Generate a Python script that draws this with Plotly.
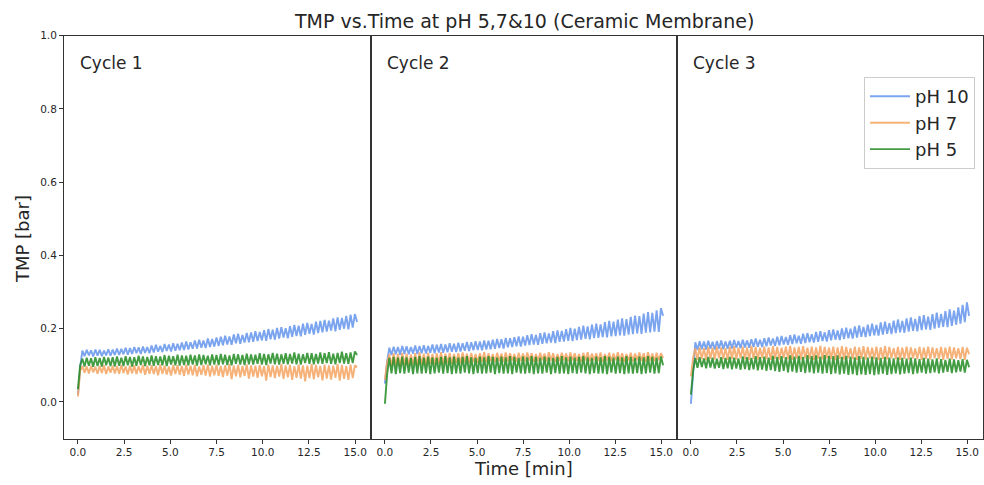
import numpy as np
import plotly.graph_objects as go

# ---------------- data ----------------
series_names = ["pH 10", "pH 7", "pH 5"]
cycle_labels = ["Cycle 1", "Cycle 2", "Cycle 3"]
x_ticks = [0.0, 2.5, 5.0, 7.5, 10.0, 12.5, 15.0]
y_ticks = [0.0, 0.2, 0.4, 0.6, 0.8, 1.0]

head_times = [0.0, 0.12]          # start-up ramp sample times [min]
osc_start, osc_end, osc_n = 0.24, 15.1, 128   # filtration/backwash sampling

# ----- Cycle 1 -----
c1_ph10_head = [0.020, 0.095]
c1_ph10_hi = [0.140,0.142,0.141,0.143,0.142,0.140,0.144,0.143,
              0.146,0.145,0.148,0.147,0.150,0.149,0.151,0.150,
              0.154,0.156,0.153,0.158,0.157,0.160,0.159,0.162,
              0.165,0.163,0.168,0.170,0.168,0.173,0.172,0.176,
              0.178,0.181,0.179,0.184,0.186,0.183,0.188,0.190,
              0.193,0.191,0.196,0.199,0.197,0.202,0.204,0.201,
              0.207,0.210,0.208,0.214,0.216,0.213,0.219,0.221,
              0.224,0.222,0.228,0.231,0.229,0.235,0.238,0.240]
c1_ph10_lo = [0.125,0.127,0.124,0.126,0.125,0.127,0.126,0.128,
              0.128,0.130,0.129,0.131,0.133,0.131,0.134,0.133,
              0.135,0.137,0.136,0.139,0.138,0.140,0.141,0.142,
              0.143,0.145,0.146,0.148,0.147,0.150,0.151,0.153,
              0.155,0.157,0.156,0.160,0.159,0.162,0.163,0.164,
              0.166,0.168,0.167,0.171,0.170,0.173,0.176,0.174,
              0.178,0.180,0.179,0.183,0.186,0.184,0.188,0.190,
              0.192,0.195,0.193,0.197,0.200,0.198,0.203,0.218]

c1_ph7_head = [0.015, 0.085]
c1_ph7_hi = [0.098,0.097,0.099,0.096,0.098,0.100,0.097,0.099,
             0.098,0.101,0.097,0.099,0.100,0.098,0.101,0.099,
             0.100,0.098,0.102,0.099,0.097,0.101,0.100,0.098,
             0.102,0.099,0.101,0.097,0.100,0.102,0.099,0.101,
             0.098,0.100,0.103,0.099,0.101,0.098,0.102,0.100,
             0.099,0.101,0.098,0.102,0.100,0.099,0.103,0.100,
             0.101,0.098,0.102,0.100,0.099,0.103,0.101,0.098,
             0.102,0.100,0.099,0.103,0.101,0.098,0.102,0.100]
c1_ph7_lo = [0.080,0.078,0.081,0.077,0.079,0.076,0.080,0.078,
             0.077,0.079,0.075,0.078,0.076,0.079,0.074,0.077,
             0.076,0.073,0.077,0.075,0.072,0.076,0.074,0.071,
             0.075,0.073,0.070,0.074,0.072,0.069,0.073,0.071,
             0.068,0.072,0.062,0.070,0.067,0.071,0.064,0.069,
             0.066,0.070,0.058,0.068,0.065,0.069,0.063,0.067,
             0.060,0.066,0.064,0.056,0.065,0.062,0.067,0.059,
             0.064,0.061,0.066,0.058,0.063,0.060,0.065,0.095]

c1_ph5_head = [0.035, 0.100]
c1_ph5_hi = [0.118,0.121,0.119,0.122,0.120,0.123,0.121,0.122,
             0.124,0.121,0.125,0.123,0.122,0.126,0.124,0.123,
             0.127,0.125,0.124,0.128,0.126,0.125,0.129,0.127,
             0.126,0.129,0.127,0.130,0.128,0.126,0.130,0.128,
             0.131,0.129,0.127,0.131,0.130,0.128,0.132,0.130,
             0.129,0.133,0.131,0.130,0.134,0.132,0.130,0.133,
             0.131,0.135,0.132,0.130,0.134,0.133,0.131,0.135,
             0.133,0.136,0.132,0.134,0.137,0.133,0.135,0.138]
c1_ph5_lo = [0.097,0.099,0.096,0.098,0.097,0.100,0.098,0.097,
             0.099,0.098,0.100,0.097,0.099,0.101,0.098,0.100,
             0.099,0.101,0.100,0.098,0.102,0.100,0.099,0.101,
             0.100,0.102,0.099,0.101,0.103,0.100,0.102,0.101,
             0.103,0.101,0.100,0.104,0.102,0.101,0.103,0.102,
             0.104,0.102,0.101,0.105,0.103,0.102,0.104,0.103,
             0.105,0.103,0.102,0.106,0.104,0.103,0.105,0.104,
             0.106,0.104,0.103,0.106,0.105,0.104,0.106,0.128]

# ----- Cycle 2 -----
c2_ph10_head = [0.050, 0.110]
c2_ph10_hi = [0.148,0.151,0.150,0.153,0.152,0.150,0.154,0.153,
              0.155,0.153,0.157,0.156,0.158,0.157,0.160,0.159,
              0.162,0.160,0.164,0.163,0.166,0.165,0.168,0.167,
              0.170,0.172,0.171,0.175,0.174,0.177,0.179,0.178,
              0.182,0.185,0.183,0.188,0.190,0.187,0.193,0.195,
              0.194,0.199,0.202,0.200,0.205,0.208,0.206,0.211,
              0.214,0.212,0.218,0.221,0.219,0.225,0.228,0.226,
              0.232,0.236,0.234,0.241,0.245,0.243,0.250,0.256]
c2_ph10_lo = [0.128,0.130,0.129,0.131,0.130,0.132,0.131,0.133,
              0.132,0.134,0.133,0.135,0.134,0.136,0.137,0.136,
              0.138,0.140,0.139,0.141,0.142,0.141,0.143,0.144,
              0.145,0.147,0.146,0.149,0.150,0.152,0.151,0.154,
              0.155,0.157,0.156,0.159,0.160,0.162,0.161,0.164,
              0.165,0.167,0.166,0.169,0.170,0.172,0.171,0.174,
              0.175,0.177,0.176,0.179,0.180,0.182,0.181,0.184,
              0.185,0.187,0.186,0.189,0.190,0.192,0.191,0.235]

c2_ph7_head = [0.060, 0.110]
c2_ph7_hi = [0.130,0.133,0.131,0.134,0.132,0.130,0.133,0.135,
             0.132,0.134,0.131,0.133,0.136,0.132,0.134,0.131,
             0.133,0.135,0.132,0.134,0.131,0.133,0.136,0.133,
             0.131,0.134,0.132,0.135,0.133,0.131,0.134,0.132,
             0.135,0.133,0.131,0.134,0.132,0.136,0.133,0.131,
             0.134,0.132,0.135,0.133,0.131,0.134,0.136,0.132,
             0.133,0.135,0.131,0.134,0.132,0.136,0.133,0.131,
             0.134,0.132,0.135,0.133,0.136,0.132,0.134,0.133]
c2_ph7_lo = [0.098,0.100,0.097,0.101,0.099,0.102,0.100,0.103,
             0.101,0.104,0.102,0.105,0.103,0.106,0.104,0.107,
             0.105,0.108,0.106,0.109,0.107,0.110,0.108,0.111,
             0.109,0.112,0.110,0.111,0.113,0.110,0.112,0.111,
             0.113,0.110,0.112,0.114,0.111,0.113,0.110,0.112,
             0.114,0.111,0.113,0.112,0.110,0.113,0.111,0.114,
             0.112,0.110,0.113,0.111,0.114,0.112,0.110,0.113,
             0.111,0.114,0.112,0.110,0.113,0.111,0.114,0.120]

c2_ph5_head = [-0.005, 0.075]
c2_ph5_hi = [0.120,0.123,0.121,0.124,0.122,0.120,0.123,0.125,
             0.121,0.124,0.122,0.120,0.123,0.125,0.122,0.124,
             0.121,0.123,0.125,0.122,0.120,0.124,0.122,0.125,
             0.123,0.121,0.124,0.122,0.125,0.123,0.120,0.124,
             0.122,0.125,0.123,0.121,0.124,0.122,0.120,0.123,
             0.125,0.122,0.124,0.121,0.123,0.125,0.122,0.120,
             0.124,0.122,0.125,0.123,0.121,0.124,0.122,0.125,
             0.123,0.120,0.124,0.122,0.125,0.123,0.121,0.124]
c2_ph5_lo = [0.078,0.076,0.079,0.077,0.080,0.076,0.078,0.077,
             0.079,0.076,0.078,0.080,0.077,0.079,0.076,0.078,
             0.077,0.080,0.078,0.076,0.079,0.077,0.078,0.080,
             0.076,0.079,0.077,0.078,0.076,0.080,0.078,0.077,
             0.079,0.076,0.078,0.077,0.080,0.076,0.079,0.077,
             0.078,0.076,0.079,0.077,0.080,0.078,0.076,0.079,
             0.077,0.078,0.076,0.080,0.077,0.079,0.076,0.078,
             0.077,0.079,0.076,0.078,0.080,0.077,0.079,0.100]

# ----- Cycle 3 -----
c3_ph10_head = [-0.005, 0.090]
c3_ph10_hi = [0.163,0.166,0.165,0.167,0.164,0.166,0.168,0.165,
              0.167,0.169,0.166,0.170,0.168,0.171,0.173,0.170,
              0.174,0.176,0.173,0.178,0.180,0.177,0.182,0.184,
              0.181,0.186,0.188,0.185,0.191,0.193,0.190,0.196,
              0.198,0.195,0.201,0.203,0.200,0.206,0.209,0.205,
              0.211,0.214,0.210,0.217,0.219,0.215,0.222,0.225,
              0.221,0.228,0.231,0.227,0.234,0.237,0.233,0.240,
              0.244,0.240,0.248,0.253,0.249,0.258,0.265,0.272]
c3_ph10_lo = [0.142,0.144,0.143,0.145,0.143,0.146,0.144,0.145,
              0.146,0.148,0.147,0.149,0.148,0.150,0.151,0.150,
              0.152,0.154,0.153,0.155,0.157,0.156,0.158,0.160,
              0.159,0.161,0.163,0.162,0.164,0.166,0.165,0.168,
              0.170,0.169,0.172,0.174,0.173,0.176,0.178,0.177,
              0.180,0.182,0.181,0.184,0.186,0.185,0.188,0.190,
              0.189,0.192,0.194,0.193,0.196,0.198,0.197,0.200,
              0.203,0.205,0.204,0.208,0.211,0.214,0.218,0.235]

c3_ph7_head = [0.070, 0.120]
c3_ph7_hi = [0.146,0.149,0.147,0.150,0.148,0.151,0.149,0.147,
             0.150,0.152,0.148,0.151,0.149,0.153,0.150,0.148,
             0.151,0.149,0.152,0.150,0.148,0.151,0.153,0.149,
             0.150,0.152,0.148,0.151,0.149,0.153,0.150,0.148,
             0.151,0.149,0.152,0.150,0.147,0.151,0.149,0.152,
             0.150,0.148,0.151,0.149,0.152,0.150,0.147,0.150,
             0.148,0.151,0.149,0.146,0.150,0.148,0.151,0.149,
             0.147,0.150,0.148,0.151,0.149,0.147,0.150,0.148]
c3_ph7_lo = [0.115,0.117,0.114,0.118,0.116,0.119,0.117,0.115,
             0.118,0.116,0.119,0.117,0.115,0.118,0.116,0.119,
             0.117,0.115,0.118,0.116,0.120,0.117,0.115,0.118,
             0.116,0.119,0.117,0.115,0.118,0.116,0.119,0.117,
             0.114,0.118,0.116,0.119,0.117,0.115,0.118,0.116,
             0.119,0.117,0.114,0.118,0.116,0.119,0.117,0.115,
             0.118,0.116,0.119,0.117,0.115,0.118,0.116,0.119,
             0.117,0.115,0.118,0.116,0.119,0.117,0.115,0.130]

c3_ph5_head = [0.020, 0.085]
c3_ph5_hi = [0.120,0.122,0.119,0.123,0.121,0.118,0.122,0.120,
             0.123,0.121,0.119,0.124,0.122,0.120,0.125,0.122,
             0.124,0.121,0.126,0.123,0.125,0.122,0.127,0.124,
             0.126,0.123,0.128,0.125,0.127,0.124,0.128,0.126,
             0.125,0.127,0.123,0.126,0.124,0.122,0.125,0.123,
             0.121,0.124,0.122,0.120,0.123,0.121,0.119,0.122,
             0.120,0.118,0.121,0.119,0.117,0.120,0.118,0.116,
             0.119,0.117,0.115,0.118,0.116,0.114,0.117,0.115]
c3_ph5_lo = [0.093,0.095,0.092,0.094,0.091,0.093,0.090,0.092,
             0.089,0.091,0.088,0.090,0.087,0.089,0.086,0.088,
             0.085,0.087,0.084,0.082,0.085,0.081,0.083,0.080,
             0.082,0.079,0.081,0.078,0.080,0.077,0.079,0.076,
             0.078,0.075,0.077,0.074,0.076,0.073,0.075,0.074,
             0.076,0.073,0.075,0.077,0.074,0.076,0.078,0.075,
             0.077,0.079,0.076,0.078,0.080,0.077,0.079,0.081,
             0.078,0.080,0.082,0.079,0.081,0.083,0.080,0.095]

# ---------------- assemble ----------------
osc_times = list(np.linspace(osc_start, osc_end, osc_n))
times = head_times + osc_times


def build(head, hi, lo):
    vals = list(head)
    for a, b in zip(hi, lo):
        vals += [a, b]
    return vals


cycles = [
    [build(c1_ph10_head, c1_ph10_hi, c1_ph10_lo),
     build(c1_ph7_head, c1_ph7_hi, c1_ph7_lo),
     build(c1_ph5_head, c1_ph5_hi, c1_ph5_lo)],
    [build(c2_ph10_head, c2_ph10_hi, c2_ph10_lo),
     build(c2_ph7_head, c2_ph7_hi, c2_ph7_lo),
     build(c2_ph5_head, c2_ph5_hi, c2_ph5_lo)],
    [build(c3_ph10_head, c3_ph10_hi, c3_ph10_lo),
     build(c3_ph7_head, c3_ph7_hi, c3_ph7_lo),
     build(c3_ph5_head, c3_ph5_hi, c3_ph5_lo)],
]

colors = ["#6495ED", "#F4A460", "#228B22"]

W, H = 984, 485
left, right = 64, 983
top, bottom = 30, 438
splits = [left, 371, 677, right]

FONT = "DejaVu Sans"
TXT = "#262626"

fig = go.Figure()
for ci, cyc in enumerate(cycles):
    suffix = "" if ci == 0 else str(ci + 1)
    for si, vals in enumerate(cyc):
        fig.add_trace(go.Scatter(
            x=times, y=vals, mode="lines",
            name=series_names[si],
            line=dict(color=colors[si], width=1.9),
            opacity=0.85,
            showlegend=(ci == 2),
            xaxis="x" + suffix, yaxis="y" + suffix,
        ))

layout = dict(
    width=W, height=H,
    margin=dict(l=0, r=0, t=0, b=0),
    paper_bgcolor="white", plot_bgcolor="white",
    font=dict(family=FONT, color=TXT),
    showlegend=True,
    legend=dict(
        x=975 / W, xanchor="right", y=1 - 72 / H, yanchor="top",
        bgcolor="white", bordercolor="#cccccc", borderwidth=1,
        font=dict(size=18, family=FONT, color=TXT),
        itemwidth=40,
        tracegroupgap=0,
    ),
)

ydom = [1 - bottom / H, 1 - top / H]
for ci in range(3):
    suffix = "" if ci == 0 else str(ci + 1)
    layout["xaxis" + suffix] = dict(
        domain=[splits[ci] / W, splits[ci + 1] / W],
        anchor="y" + suffix,
        range=[-0.755, 15.855],
        tickvals=x_ticks, tickformat=".1f",
        ticks="outside", ticklen=4, tickcolor="#333",
        tickfont=dict(size=10.5, family=FONT, color=TXT),
        showline=True, mirror=True, linecolor="#333", linewidth=1,
        showgrid=False, zeroline=False,
    )
    layout["yaxis" + suffix] = dict(
        domain=ydom,
        anchor="x" + suffix,
        range=[-0.1, 1.0],
        tickvals=y_ticks, tickformat=".1f",
        ticks="outside" if ci == 0 else "",
        ticklen=4, tickcolor="#333",
        showticklabels=(ci == 0),
        tickfont=dict(size=10.5, family=FONT, color=TXT),
        showline=True, mirror=True, linecolor="#333", linewidth=1,
        showgrid=False, zeroline=False,
    )

annotations = [
    dict(text="TMP vs.Time at pH 5,7&10 (Ceramic Membrane)",
         x=(left + right) / 2 / W, y=1 - 15 / H, xref="paper", yref="paper",
         xanchor="center", yanchor="middle", showarrow=False,
         font=dict(size=19, family=FONT, color=TXT)),
    dict(text="Time [min]",
         x=(left + right) / 2 / W, y=1 - 468 / H, xref="paper", yref="paper",
         xanchor="center", yanchor="middle", showarrow=False,
         font=dict(size=18, family=FONT, color=TXT)),
    dict(text="TMP [bar]", textangle=-90,
         x=22 / W, y=1 - 236 / H, xref="paper", yref="paper",
         xanchor="center", yanchor="middle", showarrow=False,
         font=dict(size=18, family=FONT, color=TXT)),
]
for ci in range(3):
    annotations.append(dict(
        text=cycle_labels[ci],
        x=(splits[ci] + 14) / W, y=1 - 58 / H, xref="paper", yref="paper",
        xanchor="left", yanchor="middle", showarrow=False,
        font=dict(size=17, family=FONT, color=TXT)))
layout["annotations"] = annotations

fig.update_layout(**layout)
fig.write_html("out.html")
